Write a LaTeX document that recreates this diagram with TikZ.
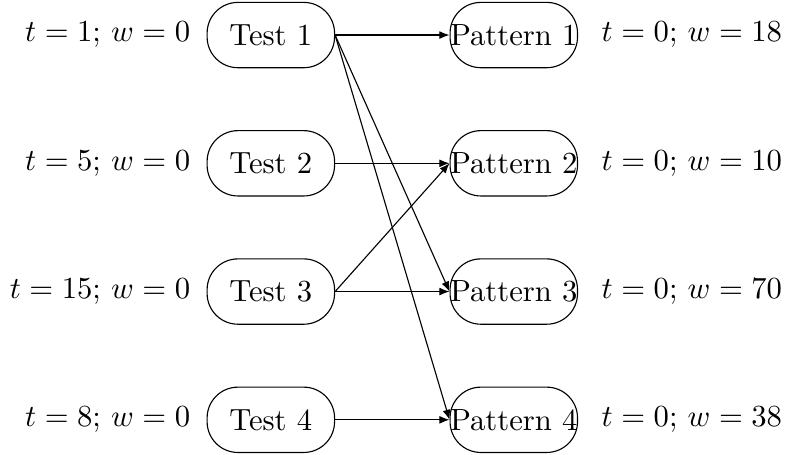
\documentclass[11pt,tikz,border=0pt]{standalone}
\usetikzlibrary{positioning, arrows.meta}
\begin{document}
\begin{tikzpicture}[thin, >={Latex[length=3.6pt,width=2.8pt]},
  box/.style={draw, rounded corners=11pt, minimum width=1.6cm, minimum height=0.82cm, inner sep=0pt}]
  \useasboundingbox (-3.40,0.44) rectangle (6.53,-5.27);
  % tests on the left, patterns on the right
  \foreach \i/\tv/\wv in {1/1/18, 2/5/10, 3/15/70, 4/8/38} {
    \node[box] (T\i) at (0,{-1.61*(\i-1)}) {Test \i};
    \node[box] (P\i) at (3.05,{-1.61*(\i-1)}) {Pattern \i};
    \node[left=2pt of T\i] (lt\i) {$t=\tv$; $w=0$};
    \node[right=4.6pt of P\i] (lp\i) {$t=0$; $w=\wv$};
  }
  % edges
  \foreach \a/\b in {1/1, 1/3, 1/4, 2/2, 3/2, 3/3, 4/4}
    \draw[->] (T\a.east) -- (P\b.west);
\end{tikzpicture}
\end{document}
